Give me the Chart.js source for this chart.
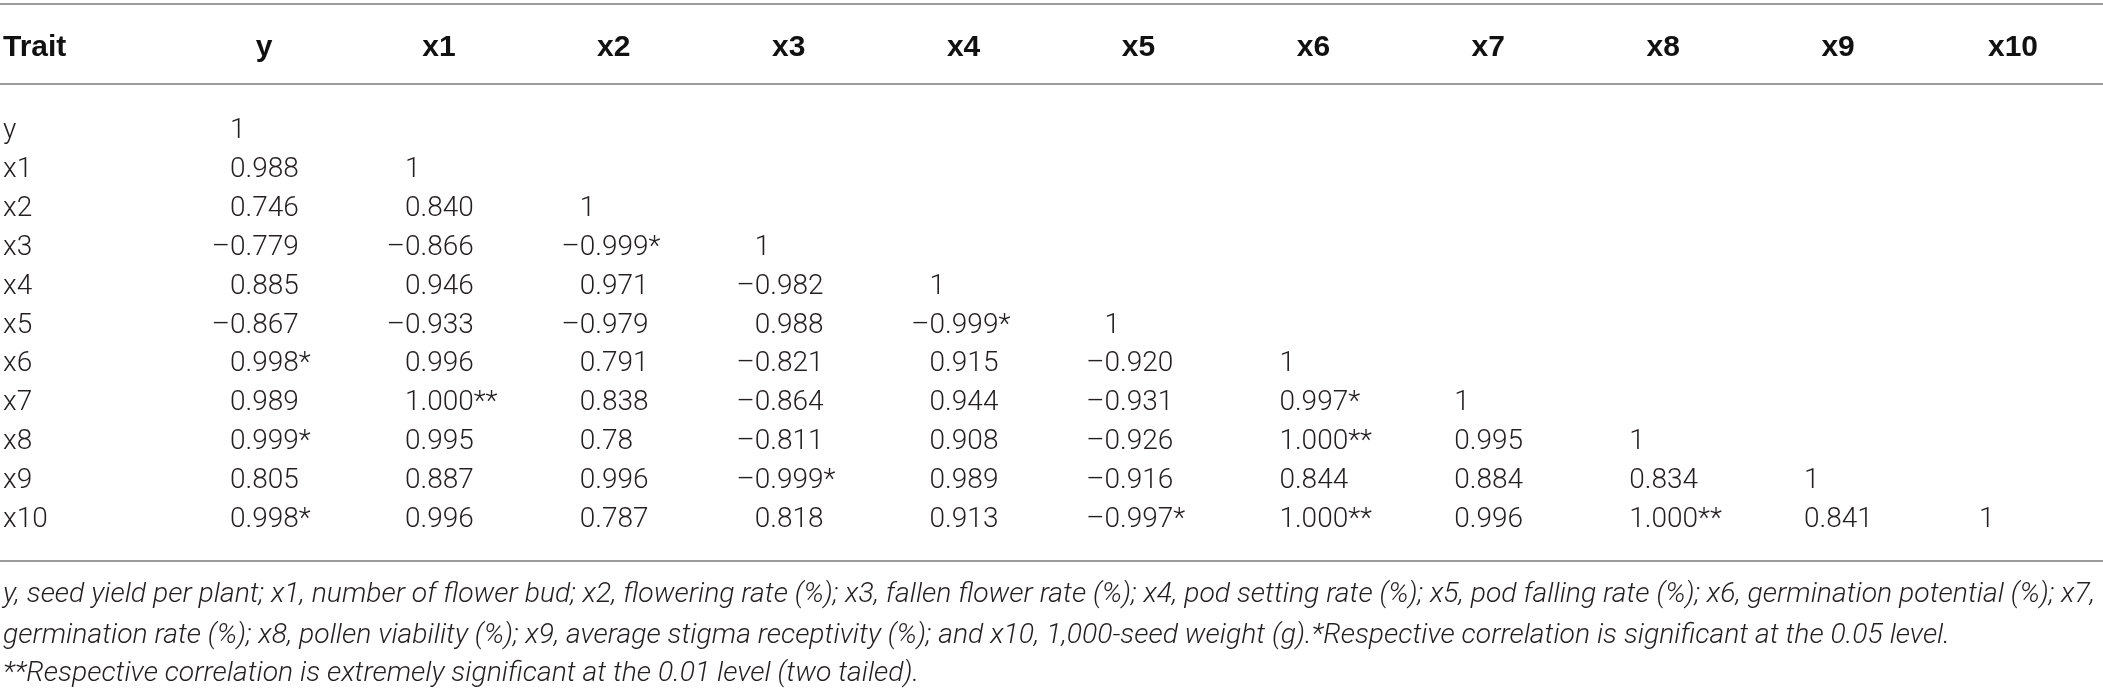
<!DOCTYPE html>
<html>
<head>
<meta charset="utf-8">
<script src="https://cdn.jsdelivr.net/npm/chart.js@4.4.1/dist/chart.umd.min.js"></script>
<style>
  html, body { margin: 0; padding: 0; background: #fff; }
  #wrap { width: 2103px; height: 693px; position: relative; }
</style>
</head>
<body>
<div id="wrap"><canvas id="corr"></canvas></div>
<script>
// Traits, used for both the rows and the columns
const traits = ['y', 'x1', 'x2', 'x3', 'x4', 'x5', 'x6', 'x7', 'x8', 'x9', 'x10'];
const cornerLabel = 'Trait';

// Lower triangle of the correlation matrix, one array per row
const rowY   = ['1'];
const rowX1  = ['0.988', '1'];
const rowX2  = ['0.746', '0.840', '1'];
const rowX3  = ['–0.779', '–0.866', '–0.999*', '1'];
const rowX4  = ['0.885', '0.946', '0.971', '–0.982', '1'];
const rowX5  = ['–0.867', '–0.933', '–0.979', '0.988', '–0.999*', '1'];
const rowX6  = ['0.998*', '0.996', '0.791', '–0.821', '0.915', '–0.920', '1'];
const rowX7  = ['0.989', '1.000**', '0.838', '–0.864', '0.944', '–0.931', '0.997*', '1'];
const rowX8  = ['0.999*', '0.995', '0.78', '–0.811', '0.908', '–0.926', '1.000**', '0.995', '1'];
const rowX9  = ['0.805', '0.887', '0.996', '–0.999*', '0.989', '–0.916', '0.844', '0.884', '0.834', '1'];
const rowX10 = ['0.998*', '0.996', '0.787', '0.818', '0.913', '–0.997*', '1.000**', '0.996', '1.000**', '0.841', '1'];
const rows = [rowY, rowX1, rowX2, rowX3, rowX4, rowX5, rowX6, rowX7, rowX8, rowX9, rowX10];

// Footnote lines
const notes = [
  'y, seed yield per plant; x1, number of flower bud; x2, flowering rate (%); x3, fallen flower rate (%); x4, pod setting rate (%); x5, pod falling rate (%); x6, germination potential (%); x7,',
  'germination rate (%); x8, pollen viability (%); x9, average stigma receptivity (%); and x10, 1,000-seed weight (g).*Respective correlation is significant at the 0.05 level.',
  '**Respective correlation is extremely significant at the 0.01 level (two tailed).'
];

const points = [];
rows.forEach((row, i) => {
  row.forEach((v, j) => points.push({ x: traits[j], y: traits[i], v: v }));
});

const bodyFont = { family: 'Roboto, "Liberation Sans", sans-serif', weight: '300', size: 28 };
const headFont = { family: '"Liberation Sans Narrow", "Liberation Sans", sans-serif', weight: 'bold', size: 30 };
const headPad = 65;

// Draws the rules, the cell values, the corner label and the notes
const tableText = {
  id: 'tableText',
  beforeDraw(chart) {
    const { ctx, chartArea, width } = chart;
    ctx.save();
    ctx.strokeStyle = '#9b9b9b';
    ctx.lineWidth = 2;
    [4, chartArea.top - 47, chartArea.bottom + 41].forEach(y => {
      ctx.beginPath();
      ctx.moveTo(0, y);
      ctx.lineTo(width, y);
      ctx.stroke();
    });
    ctx.restore();
  },
  afterDatasetsDraw(chart) {
    const { ctx, chartArea } = chart;
    const meta = chart.getDatasetMeta(0);
    const data = chart.data.datasets[0].data;
    ctx.save();
    ctx.fillStyle = '#231f20';
    ctx.textBaseline = 'middle';
    ctx.textAlign = 'left';
    ctx.font = `300 ${bodyFont.size}px ${bodyFont.family}`;
    const dash = ctx.measureText('–').width;
    meta.data.forEach((pt, i) => {
      const s = data[i].v;
      let x = pt.x - 34;
      if (s[0] === '–') x -= dash;
      ctx.fillText(s, x, pt.y);
    });

    ctx.fillStyle = '#111';
    ctx.font = `bold ${headFont.size}px ${headFont.family}`;
    ctx.fillText(cornerLabel, 3, chartArea.top - headPad - headFont.size * 0.6);

    ctx.fillStyle = '#231f20';
    ctx.font = `italic 300 28px ${bodyFont.family}`;
    const sx = 2092 / ctx.measureText(notes[0]).width;
    [75, 116, 154].forEach((dy, k) => {
      ctx.save();
      ctx.translate(3, chartArea.bottom + dy);
      ctx.scale(sx, 1);
      ctx.fillText(notes[k], 0, 0);
      ctx.restore();
    });
    ctx.restore();
  }
};

new Chart(document.getElementById('corr'), {
  type: 'scatter',
  data: {
    datasets: [{ data: points, pointRadius: 0, pointHoverRadius: 0, showLine: false }]
  },
  options: {
    responsive: true,
    maintainAspectRatio: false,
    animation: false,
    events: [],
    layout: { padding: { left: 3, right: 82, top: 0, bottom: 173 } },
    plugins: { legend: { display: false }, tooltip: { enabled: false } },
    scales: {
      x: {
        type: 'category',
        labels: traits,
        position: 'top',
        offset: false,
        grid: { display: false, drawTicks: false },
        border: { display: false },
        ticks: { autoSkip: false, maxRotation: 0, padding: headPad, color: '#111', font: headFont },
        afterFit: s => { s.height = 131; }
      },
      y: {
        type: 'category',
        labels: traits,
        offset: false,
        grid: { display: false, drawTicks: false },
        border: { display: false },
        ticks: { autoSkip: false, crossAlign: 'far', padding: 0, color: '#231f20', font: bodyFont },
        afterFit: s => { s.width = 261; }
      }
    }
  },
  plugins: [tableText]
});
</script>
</body>
</html>
